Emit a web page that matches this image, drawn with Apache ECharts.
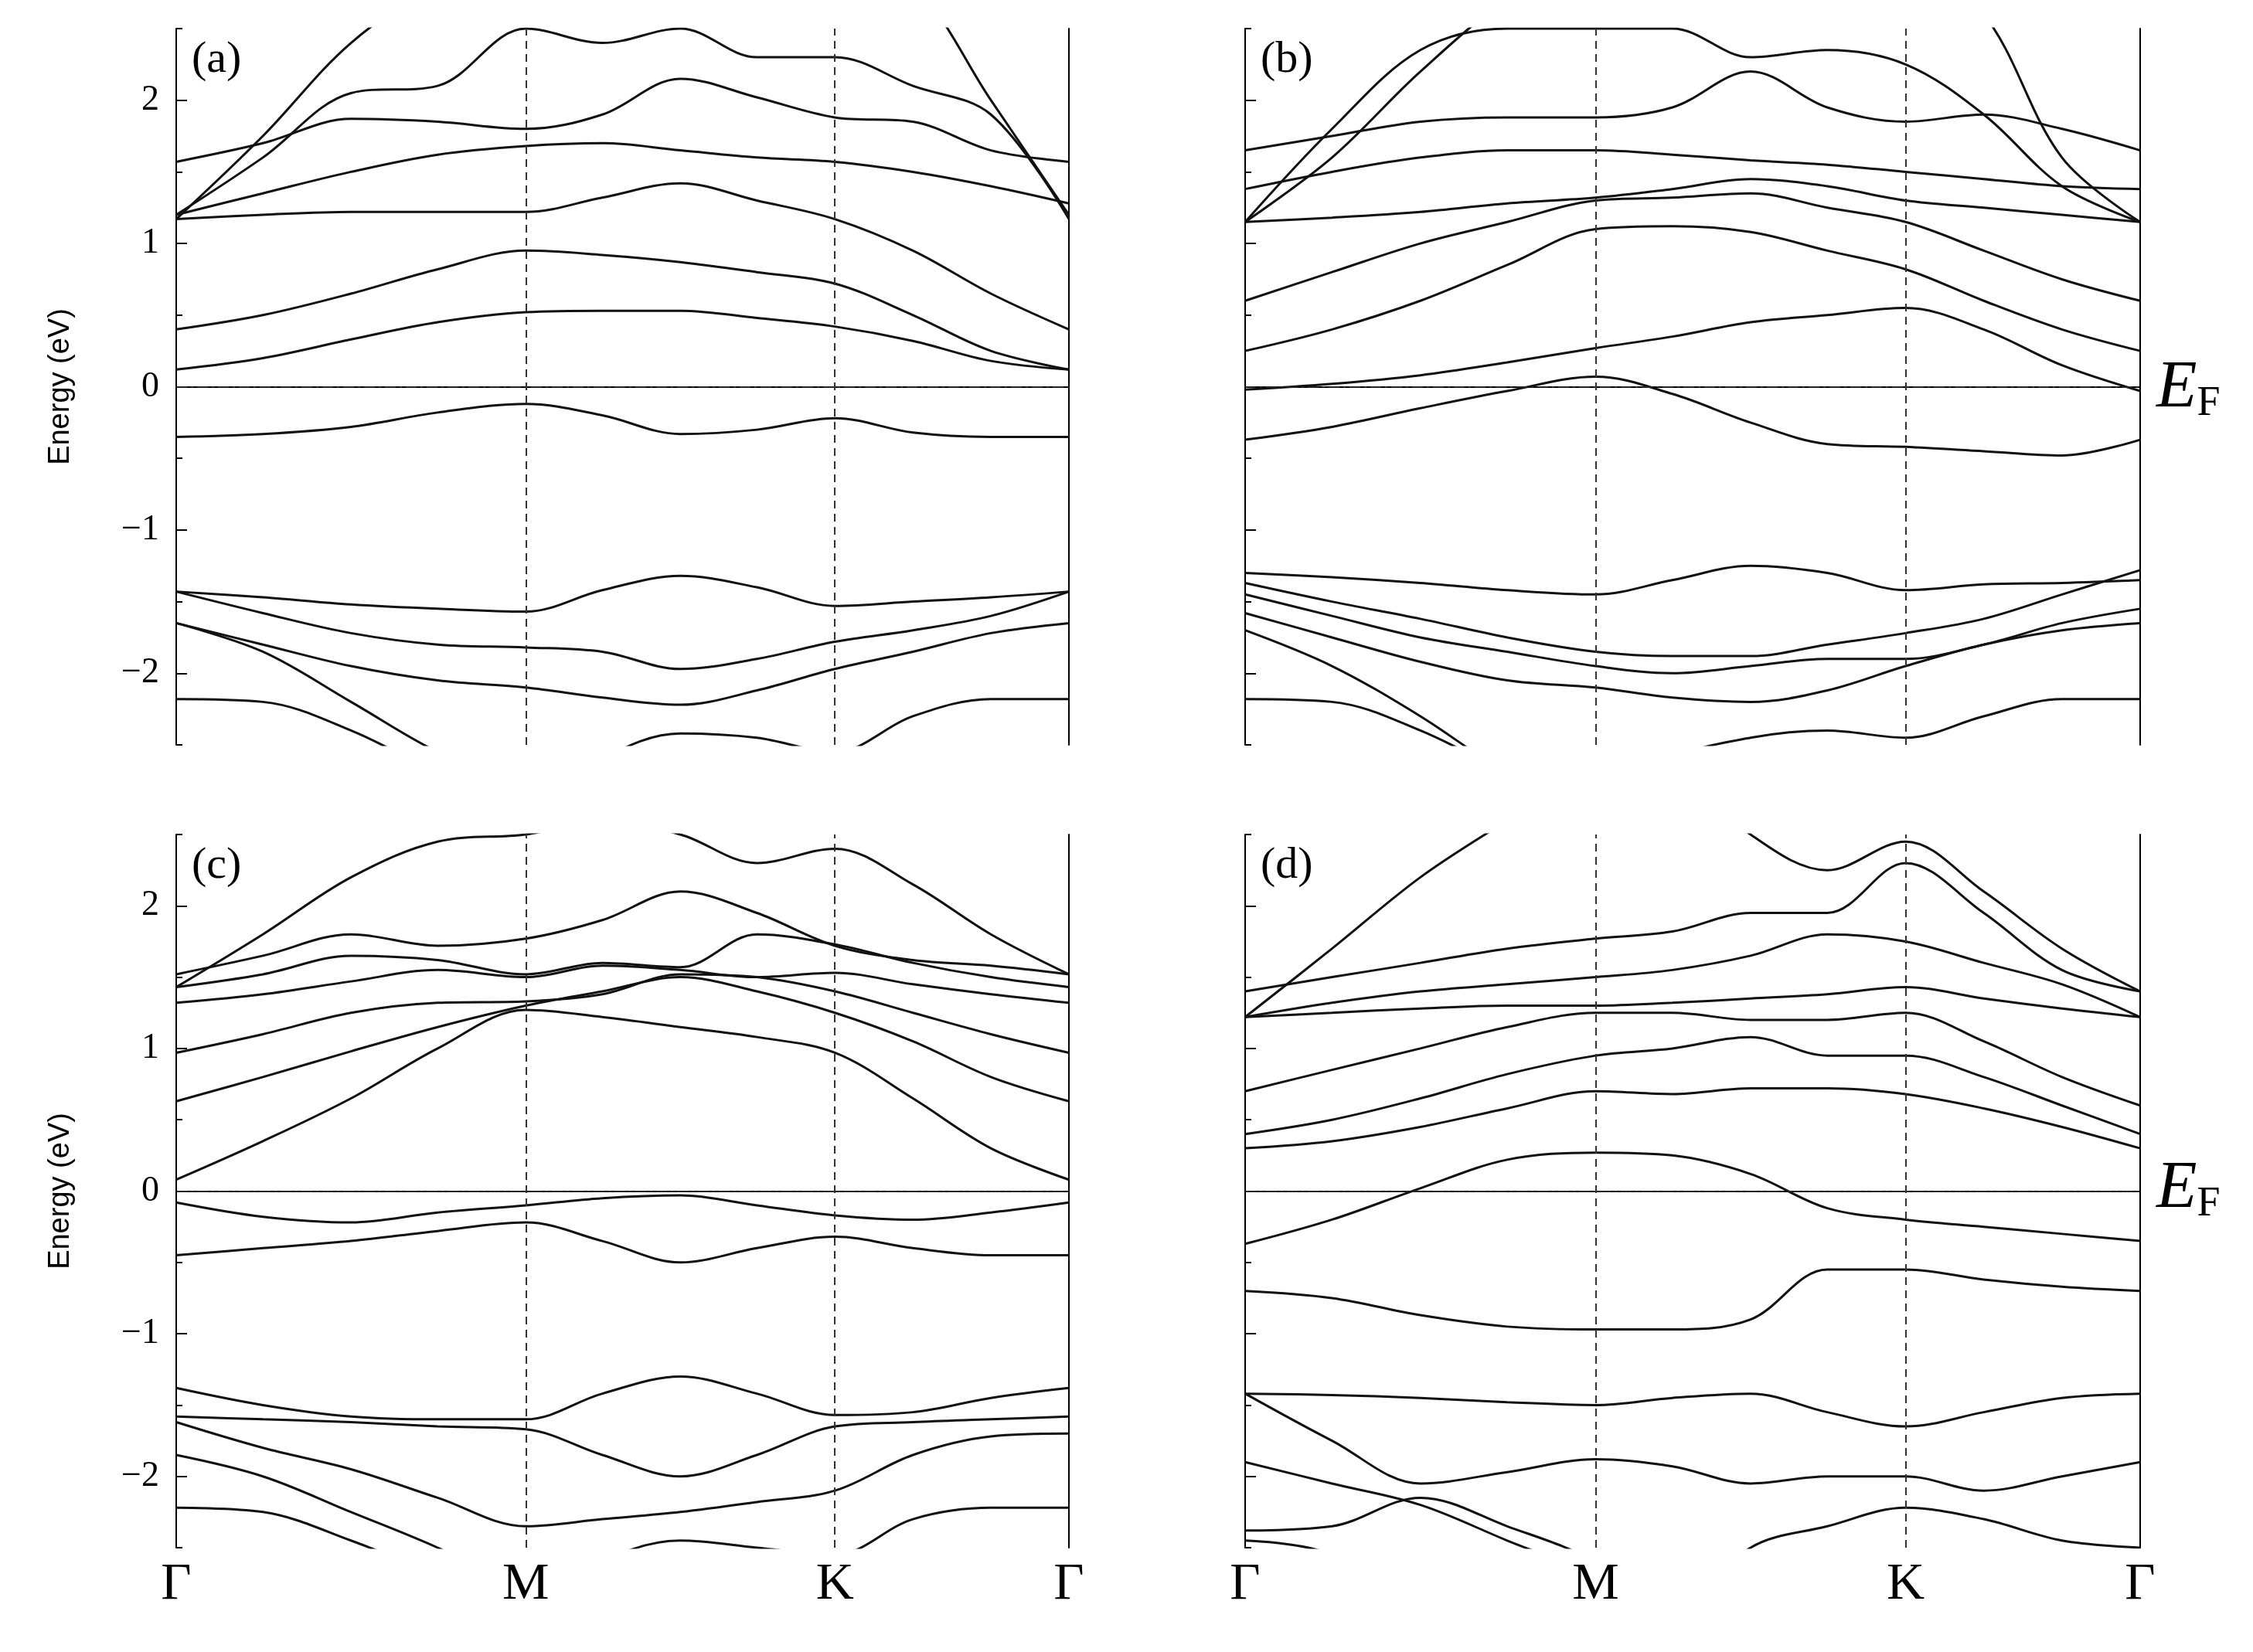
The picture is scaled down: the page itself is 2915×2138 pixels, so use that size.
<!DOCTYPE html>
<html><head><meta charset="utf-8">
<script src="https://cdn.jsdelivr.net/npm/echarts@6/dist/echarts.min.js"></script>
<style>html,body{margin:0;background:#fff}#c{width:2915px;height:2138px}</style>
</head><body><div id="c"></div>
<script>
const KX=[0,60,121,181,242,295,349,402,456,510,564,618];
const kLabels=['Γ','M','K','Γ'];
const kTicks=[0,242,456,618];
const yTicks=[-2,-1,0,1,2];
const yMinor=[-2.5,-1.5,-0.5,0.5,1.5,2.5];
const bandsA=[
[0.12,0.2,0.33,0.45,0.52,0.53,0.53,0.48,0.42,0.32,0.18,0.12],
[0.4,0.5,0.65,0.82,0.95,0.92,0.87,0.8,0.72,0.5,0.25,0.12],
[1.17,1.2,1.22,1.22,1.22,1.32,1.42,1.3,1.17,0.95,0.65,0.4],
[1.2,1.35,1.5,1.62,1.68,1.7,1.65,1.6,1.57,1.5,1.4,1.28],
[1.57,1.7,1.87,1.85,1.8,1.9,2.15,2.02,1.88,1.85,1.65,1.57],
[1.17,1.75,2.4,2.8,3,3,3,3,3,2.8,2.0,1.2],
[1.2,1.6,2.05,2.1,2.5,2.4,2.5,2.3,2.3,2.1,1.9,1.17],
[-0.35,-0.33,-0.28,-0.18,-0.12,-0.2,-0.33,-0.3,-0.22,-0.32,-0.35,-0.35],
[-1.43,-1.47,-1.52,-1.55,-1.57,-1.42,-1.32,-1.4,-1.53,-1.5,-1.47,-1.43],
[-1.43,-1.58,-1.72,-1.8,-1.82,-1.85,-1.97,-1.9,-1.78,-1.7,-1.6,-1.43],
[-1.65,-1.8,-1.95,-2.05,-2.1,-2.17,-2.22,-2.12,-1.97,-1.85,-1.72,-1.65],
[-1.65,-1.85,-2.2,-2.55,-2.8,-3,-3,-3,-3,-3,-3,-3],
[-2.18,-2.2,-2.4,-2.7,-3,-3,-3,-3,-3,-3,-3,-3],
[-3,-3,-3,-3,-3,-2.6,-2.42,-2.45,-2.55,-2.3,-2.18,-2.18]];
const bandsB=[
[-0.02,0.02,0.08,0.17,0.27,0.35,0.45,0.5,0.55,0.4,0.15,-0.03],
[0.25,0.4,0.6,0.85,1.1,1.12,1.08,0.95,0.82,0.6,0.4,0.25],
[0.6,0.8,1.0,1.15,1.3,1.32,1.35,1.25,1.15,0.95,0.75,0.6],
[1.15,1.18,1.22,1.28,1.32,1.38,1.45,1.4,1.3,1.25,1.2,1.15],
[1.38,1.5,1.6,1.65,1.65,1.62,1.58,1.55,1.5,1.45,1.4,1.38],
[1.65,1.75,1.85,1.88,1.88,1.95,2.2,1.95,1.85,1.9,1.8,1.65],
[1.15,1.8,2.35,2.5,2.5,2.5,2.3,2.35,2.25,1.9,1.4,1.15],
[1.15,1.6,2.2,2.7,3,3,3,3,3,2.6,1.6,1.15],
[-0.37,-0.28,-0.15,-0.03,0.07,-0.05,-0.25,-0.4,-0.42,-0.45,-0.48,-0.37],
[-1.3,-1.33,-1.37,-1.42,-1.45,-1.35,-1.25,-1.3,-1.42,-1.38,-1.37,-1.35],
[-1.37,-1.5,-1.62,-1.75,-1.85,-1.88,-1.88,-1.8,-1.72,-1.62,-1.45,-1.28],
[-1.45,-1.6,-1.75,-1.85,-1.95,-2.0,-1.95,-1.9,-1.9,-1.8,-1.65,-1.55],
[-1.58,-1.75,-1.92,-2.05,-2.1,-2.17,-2.2,-2.12,-1.95,-1.8,-1.7,-1.65],
[-1.7,-1.95,-2.3,-2.7,-3,-3,-3,-3,-3,-3,-3,-3],
[-2.18,-2.2,-2.4,-2.7,-3,-3,-3,-3,-3,-3,-3,-3],
[-3,-3,-3,-3,-3,-2.6,-2.45,-2.4,-2.45,-2.3,-2.18,-2.18]];
const bandsC=[
[0.08,0.35,0.65,1.0,1.27,1.22,1.15,1.08,0.97,0.65,0.3,0.08],
[0.63,0.8,0.98,1.15,1.3,1.4,1.5,1.4,1.25,1.05,0.8,0.63],
[0.97,1.1,1.25,1.32,1.33,1.38,1.52,1.5,1.4,1.25,1.1,0.97],
[1.32,1.38,1.47,1.55,1.5,1.58,1.55,1.5,1.53,1.45,1.38,1.32],
[1.43,1.52,1.65,1.62,1.52,1.6,1.57,1.8,1.73,1.6,1.5,1.43],
[1.52,1.65,1.8,1.72,1.77,1.9,2.1,1.95,1.72,1.62,1.58,1.52],
[1.43,1.8,2.2,2.45,2.5,2.6,2.5,2.3,2.4,2.15,1.8,1.52],
[-0.08,-0.18,-0.22,-0.15,-0.1,-0.05,-0.03,-0.1,-0.17,-0.2,-0.15,-0.08],
[-0.45,-0.4,-0.35,-0.28,-0.22,-0.35,-0.5,-0.4,-0.32,-0.4,-0.45,-0.45],
[-1.38,-1.5,-1.58,-1.6,-1.6,-1.42,-1.3,-1.42,-1.57,-1.55,-1.45,-1.38],
[-1.58,-1.6,-1.62,-1.65,-1.67,-1.85,-2.0,-1.85,-1.65,-1.62,-1.6,-1.58],
[-1.62,-1.8,-1.95,-2.15,-2.35,-2.3,-2.25,-2.18,-2.1,-1.85,-1.72,-1.7],
[-1.85,-2.0,-2.25,-2.5,-2.8,-3,-3,-3,-3,-3,-3,-3],
[-2.22,-2.25,-2.45,-2.7,-3,-3,-3,-3,-3,-3,-3,-3],
[-3,-3,-3,-3,-3,-2.6,-2.45,-2.5,-2.55,-2.3,-2.22,-2.22]];
const bandsD=[
[0.3,0.35,0.45,0.58,0.7,0.68,0.72,0.72,0.68,0.58,0.45,0.3],
[0.4,0.5,0.65,0.82,0.95,1.0,1.08,0.95,0.95,0.8,0.6,0.4],
[0.7,0.85,1.0,1.15,1.25,1.25,1.2,1.2,1.25,1.05,0.8,0.6],
[1.22,1.25,1.28,1.3,1.3,1.32,1.35,1.38,1.43,1.35,1.28,1.22],
[1.22,1.32,1.4,1.45,1.5,1.55,1.65,1.8,1.75,1.6,1.45,1.22],
[1.4,1.5,1.6,1.7,1.77,1.82,1.95,1.95,2.3,1.95,1.55,1.4],
[1.22,1.7,2.2,2.6,3,3,3,3,3,3,3,3],
[3,3,3,3,3,3,2.5,2.25,2.45,2.1,1.7,1.4],
[-0.37,-0.2,0.02,0.22,0.27,0.25,0.12,-0.12,-0.2,-0.25,-0.3,-0.35],
[-0.7,-0.75,-0.87,-0.95,-0.97,-0.97,-0.9,-0.55,-0.55,-0.62,-0.67,-0.7],
[-1.42,-1.43,-1.45,-1.48,-1.5,-1.45,-1.42,-1.55,-1.65,-1.55,-1.45,-1.42],
[-1.42,-1.75,-2.05,-1.97,-1.88,-1.93,-2.05,-2.0,-2.0,-2.1,-2.0,-1.9],
[-1.9,-2.05,-2.2,-2.45,-2.7,-3,-3,-3,-3,-3,-3,-3],
[-2.38,-2.35,-2.15,-2.35,-2.6,-3,-3,-3,-3,-3,-3,-3],
[-3,-3,-3,-3,-3,-3,-2.5,-2.35,-2.22,-2.3,-2.45,-2.5],
[-2.45,-2.55,-3,-3,-3,-3,-3,-3,-3,-3,-3,-3]];
const panels=[['(a)',bandsA],['(b)',bandsB],['(c)',bandsC],['(d)',bandsD]];
const grids=[{left:228,top:37,width:1155,height:927},{left:1611,top:37,width:1158,height:927},
{left:228,top:1080,width:1155,height:923},{left:1611,top:1080,width:1158,height:923}];
const F='Liberation Serif';
const opt={animation:false,backgroundColor:'#fff',grid:grids,xAxis:[],yAxis:[],series:[],graphic:[]};
panels.forEach((p,i)=>{
 opt.xAxis.push({gridIndex:i,type:'value',min:0,max:618,axisLine:{lineStyle:{color:'#000',width:2}},
  axisTick:{show:false},splitLine:{show:false},
  axisLabel:{show:i>=2,customValues:kTicks,formatter:v=>kLabels[kTicks.indexOf(v)]||'',fontFamily:F,fontSize:68,color:'#000',margin:14}});
 opt.yAxis.push({gridIndex:i,type:'value',min:-2.5,max:2.5,interval:0.5,
  name:(i%2==0)?'Energy (eV)':'',nameLocation:'middle',nameGap:130,nameTextStyle:{fontFamily:'Liberation Sans',fontSize:38,color:'#000'},
  axisLine:{lineStyle:{color:'#000',width:2}},axisTick:{inside:true,length:14,customValues:yTicks,lineStyle:{width:2}},
  splitLine:{show:false},
  axisLabel:{show:i%2==0,customValues:yTicks,fontFamily:F,fontSize:46,color:'#000',margin:22,formatter:v=>String(v).replace('-','−')}});
 opt.xAxis.push({gridIndex:i,type:'value',position:'top',min:0,max:618,axisLine:{lineStyle:{color:'#000',width:2}},axisTick:{show:false},axisLabel:{show:false},splitLine:{show:false}});
 opt.yAxis.push({gridIndex:i,type:'value',position:'left',min:-2.5,max:2.5,interval:0.5,axisLine:{show:false},axisTick:{inside:true,length:8,customValues:yMinor,lineStyle:{color:'#000',width:2}},axisLabel:{show:false},splitLine:{show:false}});
 opt.yAxis.push({gridIndex:i,type:'value',position:'right',min:-2.5,max:2.5,interval:0.5,axisLine:{lineStyle:{color:'#000',width:2}},axisTick:{show:false},axisLabel:{show:false},splitLine:{show:false}});
 p[1].forEach((b,j)=>{
  const s={type:'line',xAxisIndex:2*i,yAxisIndex:3*i,data:KX.map((x,k)=>[x,b[k]]),smooth:0.35,showSymbol:false,
   lineStyle:{color:'#111',width:3},clip:true,silent:true};
  if(j==0){s.markLine={silent:true,symbol:'none',label:{show:false},data:[
   {yAxis:0,lineStyle:{type:[14,5,3,5],color:'#222',width:2}},
   {xAxis:242,lineStyle:{type:[10,7],color:'#333',width:2}},
   {xAxis:456,lineStyle:{type:[10,7],color:'#333',width:2}}]};}
  opt.series.push(s);
 });
 opt.graphic.push({type:'text',left:grids[i].left+20,top:grids[i].top+12,style:{text:p[0],font:'58px "Liberation Serif"',fill:'#000'}});
});
[505,1541].forEach(y=>opt.graphic.push({type:'text',left:2790,top:y-45,style:{text:'{e|E}{f|F}',rich:{e:{font:'italic 86px "Liberation Serif"',fill:'#000'},f:{font:'54px "Liberation Serif"',fill:'#000',padding:[40,0,0,0]}}}}));
echarts.init(document.getElementById('c')).setOption(opt);
</script></body></html>
